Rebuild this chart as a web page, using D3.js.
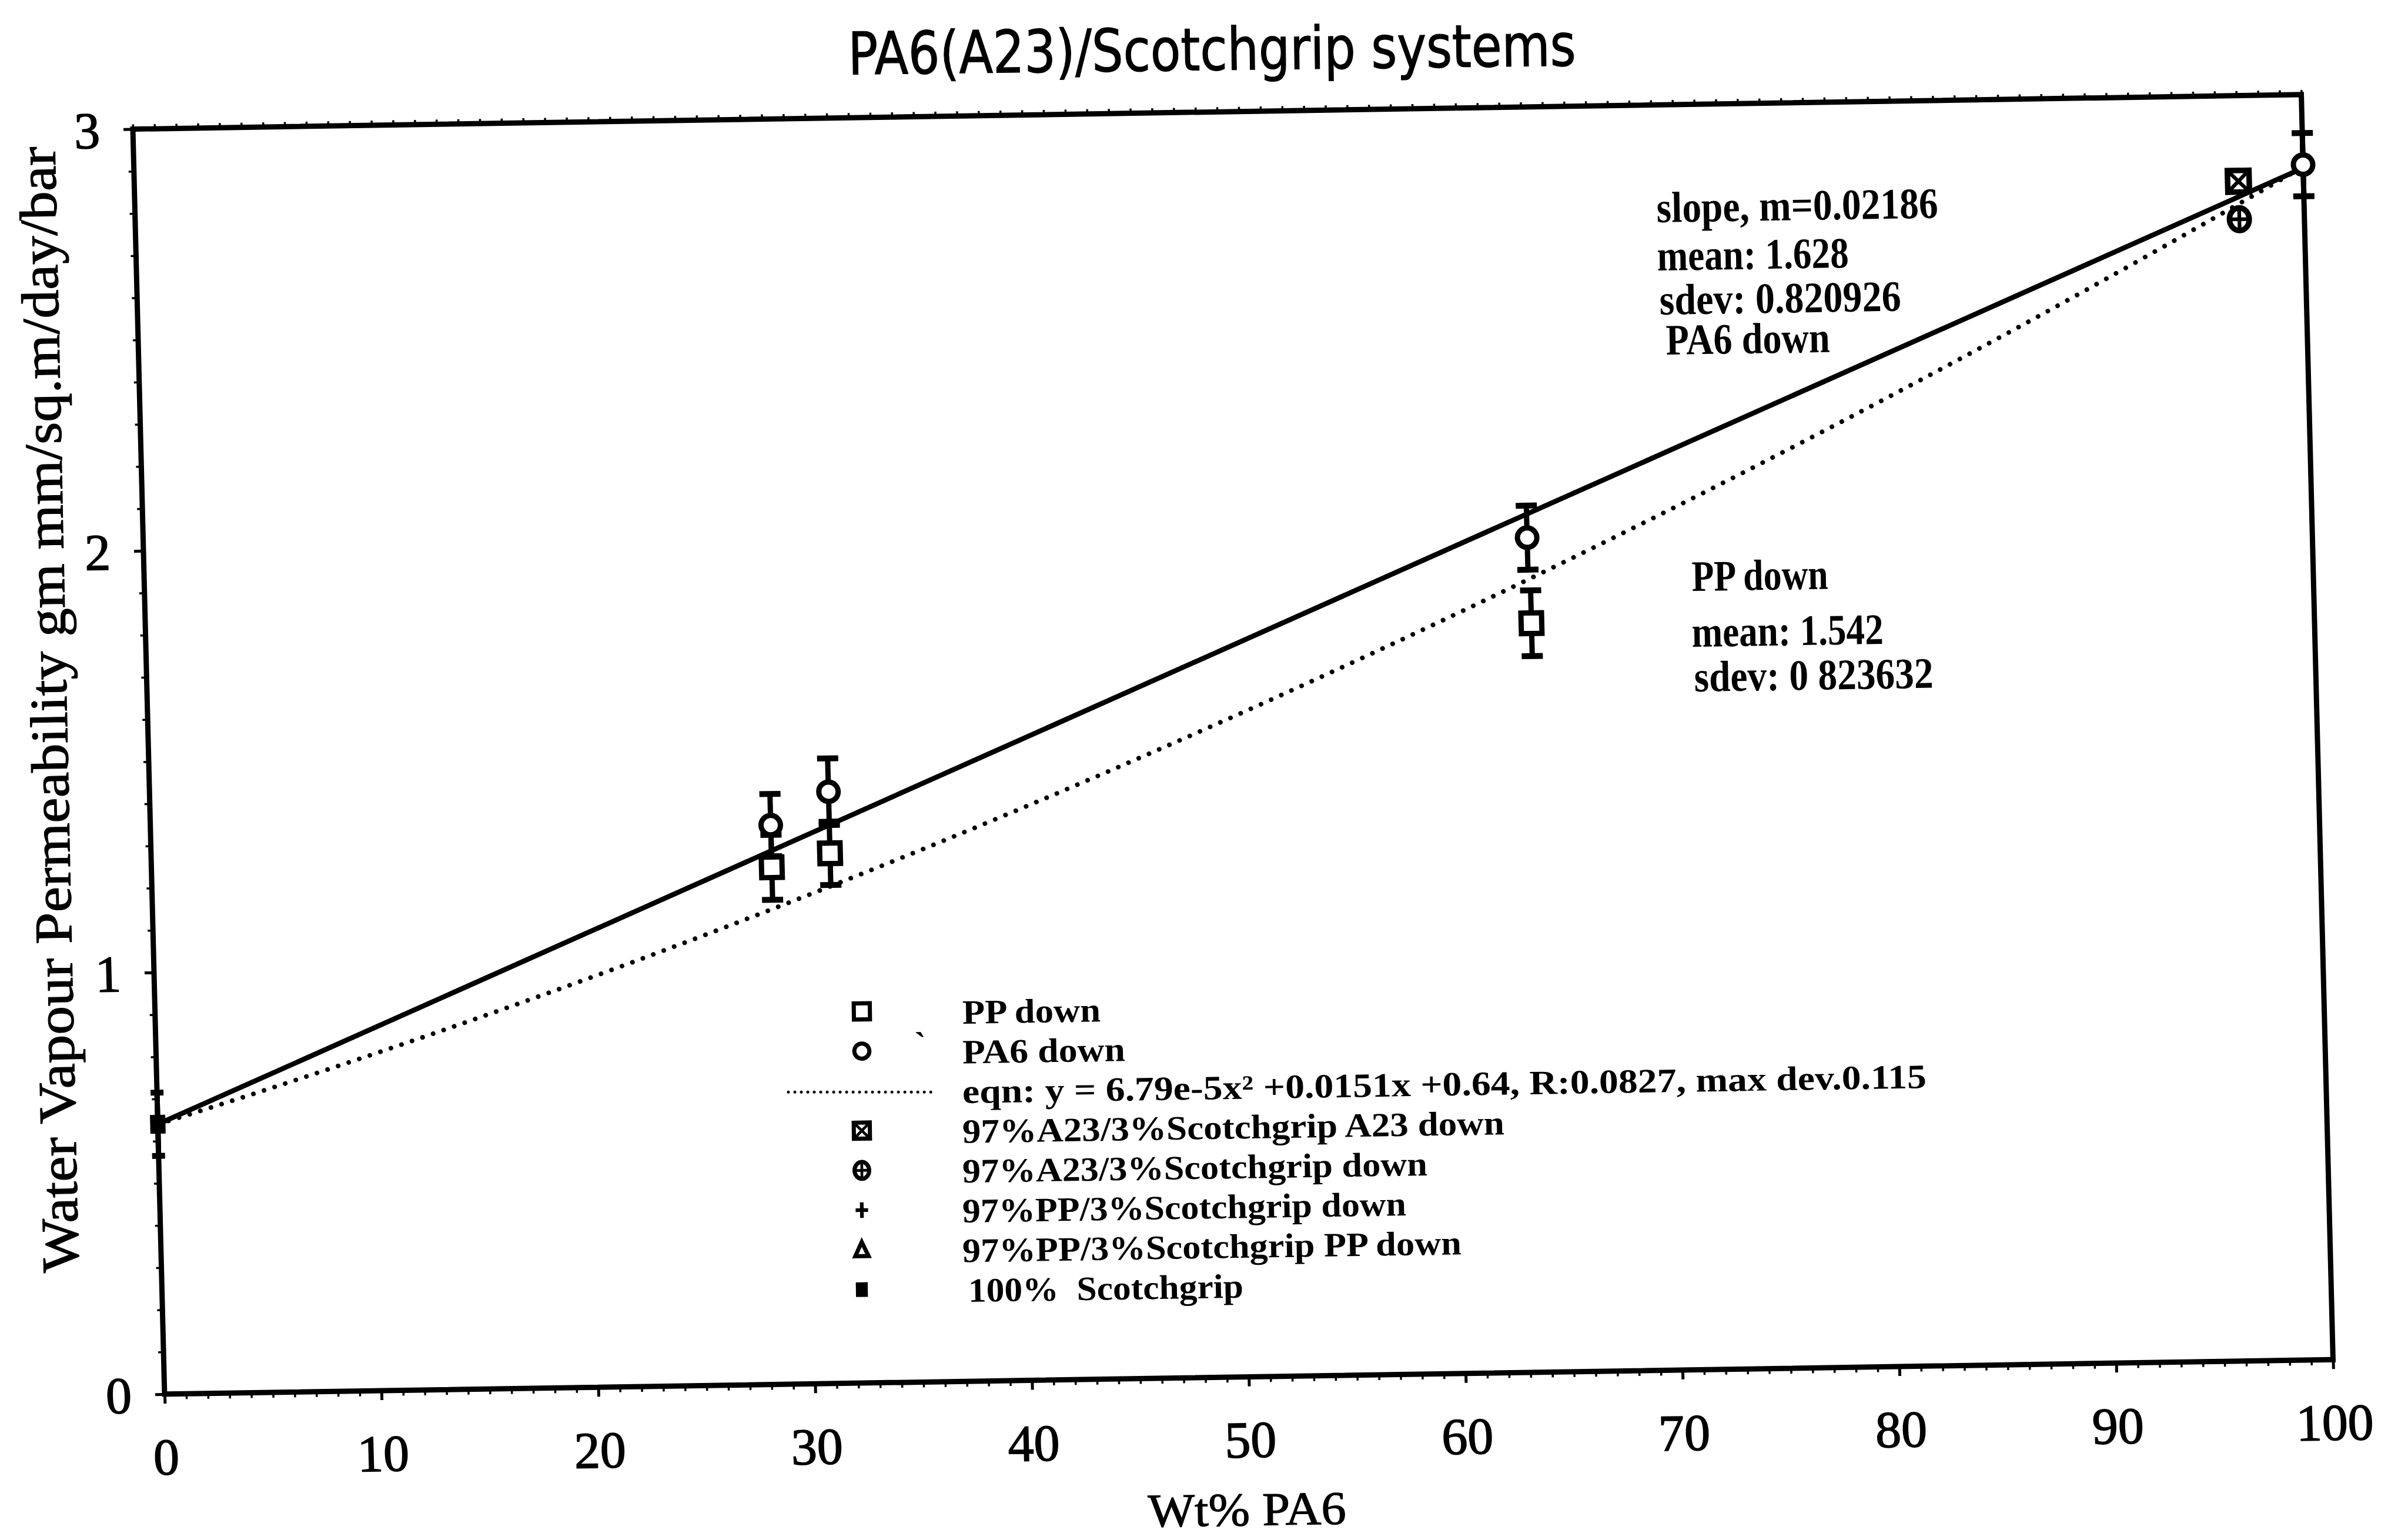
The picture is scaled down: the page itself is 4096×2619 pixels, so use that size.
<!DOCTYPE html>
<html>
<head>
<meta charset="utf-8">
<script src="https://cdn.jsdelivr.net/npm/d3@7"></script>
<style>
  html, body { margin: 0; padding: 0; background: #fff; }
  svg { display: block; }
  text { white-space: pre; }
</style>
</head>
<body>
<svg id="chart" width="4096" height="2619"></svg>
<script>
// ---------------- data ----------------
const xTicks = [0, 10, 20, 30, 40, 50, 60, 70, 80, 90, 100];
const yTicks = [0, 1, 2, 3];

// PA6 down (circles, with error bars)
const pa6Wt   = [28.6, 31.3, 63.8, 100];
const pa6Perm = [1.326, 1.403, 1.979, 2.834];
const pa6Err  = [0.074, 0.079, 0.076, 0.075];

// PP down (squares, with error bars)
const ppWt   = [28.6, 31.3, 63.9];
const ppPerm = [1.226, 1.257, 1.776];
const ppErr  = [0.077, 0.075, 0.078];

// 97%A23/3%Scotchgrip A23 down
const a23A23Wt   = [97];
const a23A23Perm = [2.797];
// 97%A23/3%Scotchgrip down
const a23Wt   = [97];
const a23Perm = [2.707];
// 100% Scotchgrip
const scotchWt   = [0];
const scotchPerm = [0.64];
const scotchErr  = [0.075];

// straight PA6 line: slope from the annotation, starting at the Scotchgrip value
const pa6LineWt = [0, 100];
const pa6Slope = 0.02186;
const pa6Intercept = 0.64;

// quadratic fit quoted in the legend: y = a x^2 + b x + c
const fitA = 6.79e-5, fitB = 0.0151, fitC = 0.64;
const fitWt = d3.range(0, 100.01, 2);

const annotationsTop = ["slope, m=0.02186", "mean: 1.628", "sdev: 0.820926", "PA6 down"];
const annotationsMid = ["PP down", "mean: 1.542", "sdev: 0 823632"];

const legendLabels = [
  "PP down",
  "PA6 down",
  "eqn: y = 6.79e-5x\u00B2 +0.0151x +0.64, R:0.0827, max dev.0.115",
  "97%A23/3%Scotchgrip A23 down",
  "97%A23/3%Scotchgrip down",
  "97%PP/3%Scotchgrip down",
  "97%PP/3%Scotchgrip PP down",
  "100%  Scotchgrip"
];
const legendSymbols = ["square", "circle", "dotted", "boxx", "circplus", "plus", "triangle", "filled"];

// ---------------- layout ----------------
const svg = d3.select("#chart");
const W = 3689, H = 2152;
const SERIF = "'Liberation Serif', 'Times New Roman', serif";
const TILT = -0.9;

// plot frame sits slightly rotated / sheared on the page
const plot = svg.append("g")
  .attr("transform", "matrix(0.99987,-0.01590,0.02506,0.99969,226.0,219.6)");

const x = d3.scaleLinear().domain([0, 100]).range([0, W]);
const y = d3.scaleLinear().domain([0, 3]).range([H, 0]);

function styleAxis(g, width) {
  g.select(".domain").remove();
  g.selectAll(".tick line").attr("stroke", "#000").attr("stroke-width", width);
}

// minor ticks on bottom, top and left sides
const xMinor = d3.range(0, 100.01, 1);
const yMinor = d3.range(0, 3.001, 0.1);
plot.append("g").attr("transform", `translate(0,${H})`)
  .call(d3.axisBottom(x).tickValues(xMinor).tickSize(9).tickFormat(""))
  .call(g => styleAxis(g, 3.5));
plot.append("g")
  .call(d3.axisTop(x).tickValues(xMinor).tickSize(8).tickFormat(""))
  .call(g => styleAxis(g, 3.5));
plot.append("g")
  .call(d3.axisLeft(y).tickValues(yMinor).tickSize(9).tickFormat(""))
  .call(g => styleAxis(g, 3.5));

// major ticks with labels
const xAxisG = plot.append("g").attr("transform", `translate(0,${H})`)
  .call(d3.axisBottom(x).tickValues(xTicks).tickSize(16).tickFormat(d3.format("d")))
  .call(g => styleAxis(g, 5));
xAxisG.selectAll(".tick text")
  .attr("y", 106).attr("dy", "0.35em")
  .attr("font-family", SERIF).attr("font-size", 88)
  .attr("fill", "#000").attr("stroke", "#000").attr("stroke-width", 1.6);

const yAxisG = plot.append("g")
  .call(d3.axisLeft(y).tickValues(yTicks).tickSize(16).tickFormat(d3.format("d")))
  .call(g => styleAxis(g, 5));
yAxisG.selectAll(".tick text")
  .attr("x", -56).attr("dy", "0.35em")
  .attr("font-family", SERIF).attr("font-size", 88)
  .attr("fill", "#000").attr("stroke", "#000").attr("stroke-width", 1.6);

// frame
plot.append("rect")
  .attr("x", 0).attr("y", 0).attr("width", W).attr("height", H)
  .attr("fill", "none").attr("stroke", "#000").attr("stroke-width", 9);

// fitted lines
const line = d3.line().x(d => x(d[0])).y(d => y(d[1]));
plot.append("path")
  .datum(pa6LineWt.map(w => [w, pa6Intercept + pa6Slope * w]))
  .attr("d", line)
  .attr("fill", "none").attr("stroke", "#000").attr("stroke-width", 8.5);

plot.append("path")
  .datum(fitWt.map(w => [w, fitA * w * w + fitB * w + fitC]))
  .attr("d", line)
  .attr("fill", "none").attr("stroke", "#000").attr("stroke-width", 8)
  .attr("stroke-linecap", "round").attr("stroke-dasharray", "0.01 19");

// error bars
function errorBars(wt, val, err, capHalf) {
  const rows = wt.map((w, i) => ({ w, v: val[i], e: err[i] }));
  const g = plot.append("g").attr("stroke", "#000").attr("fill", "none");
  g.selectAll("line.bar").data(rows).join("line").attr("class", "bar")
    .attr("x1", d => x(d.w)).attr("x2", d => x(d.w))
    .attr("y1", d => y(d.v - d.e)).attr("y2", d => y(d.v + d.e))
    .attr("stroke-width", 9);
  ["top", "bot"].forEach(side => {
    g.selectAll("line.cap-" + side).data(rows).join("line").attr("class", "cap-" + side)
      .attr("x1", d => x(d.w) - capHalf).attr("x2", d => x(d.w) + capHalf)
      .attr("y1", d => y(side === "top" ? d.v + d.e : d.v - d.e))
      .attr("y2", d => y(side === "top" ? d.v + d.e : d.v - d.e))
      .attr("stroke-width", 10);
  });
}
errorBars(ppWt, ppPerm, ppErr, 18);
errorBars(pa6Wt, pa6Perm, pa6Err, 18);
errorBars(scotchWt, scotchPerm, scotchErr, 11);

// marker drawing shared by plot and legend
function drawSymbol(g, type, s) {
  // s: overall scale (1 = plot size)
  const sw = 9 * s;
  if (type === "square") {
    const a = 35 * s;
    g.append("rect").attr("x", -a / 2).attr("y", -a / 2).attr("width", a).attr("height", a)
      .attr("fill", "#fff").attr("stroke", "#000").attr("stroke-width", sw);
  } else if (type === "circle") {
    g.append("circle").attr("r", 16.5 * s)
      .attr("fill", "#fff").attr("stroke", "#000").attr("stroke-width", sw);
  } else if (type === "boxx") {
    const a = 35 * s;
    g.append("rect").attr("x", -a / 2).attr("y", -a / 2).attr("width", a).attr("height", a)
      .attr("fill", "#fff").attr("stroke", "#000").attr("stroke-width", sw);
    g.append("path").attr("d", `M${-a/2},${-a/2}L${a/2},${a/2}M${a/2},${-a/2}L${-a/2},${a/2}`)
      .attr("stroke", "#000").attr("stroke-width", 6 * s);
  } else if (type === "circplus") {
    const r = 16 * s;
    g.append("ellipse").attr("rx", r).attr("ry", r * 1.15)
      .attr("fill", "#fff").attr("stroke", "#000").attr("stroke-width", sw);
    g.append("path").attr("d", `M0,${-r * 1.15}L0,${r * 1.15}M${-r},0L${r},0`)
      .attr("stroke", "#000").attr("stroke-width", 6 * s);
  } else if (type === "plus") {
    const a = 17 * s;
    g.append("path").attr("d", `M0,${-a}L0,${a}M${-a * 0.8},0L${a * 0.8},0`)
      .attr("stroke", "#000").attr("stroke-width", 8 * s);
  } else if (type === "triangle") {
    const a = 17 * s;
    g.append("path").attr("d", `M0,${-a}L${a * 0.85},${a * 0.8}L${-a * 0.85},${a * 0.8}Z`)
      .attr("fill", "#fff").attr("stroke", "#000").attr("stroke-width", sw);
  } else if (type === "filled") {
    g.append("rect").attr("x", -13 * s).attr("y", -16 * s).attr("width", 26 * s).attr("height", 32 * s)
      .attr("fill", "#000");
  }
}

function drawPoints(wt, val, type, s) {
  wt.forEach((w, i) => {
    const g = plot.append("g").attr("transform", `translate(${x(w)},${y(val[i])})`);
    drawSymbol(g, type, s);
  });
}
drawPoints(ppWt, ppPerm, "square", 1);
drawPoints(pa6Wt, pa6Perm, "circle", 1);
drawPoints(a23A23Wt, a23A23Perm, "boxx", 1.05);
drawPoints(a23Wt, a23Perm, "circplus", 1.05);
drawPoints(scotchWt, scotchPerm, "filled", 1);

// ---------------- page text ----------------
function tiltedText(px, py, str, opts) {
  const t = svg.append("text")
    .attr("transform", `translate(${px},${py}) rotate(${opts.rot === undefined ? TILT : opts.rot})`)
    .attr("font-family", opts.family || SERIF)
    .attr("font-size", opts.size)
    .attr("font-weight", opts.weight || "normal")
    .attr("text-anchor", opts.anchor || "start")
    .attr("fill", "#000")
    .text(str);
  if (opts.dy) t.attr("dy", opts.dy);
  if (opts.len) t.attr("textLength", opts.len).attr("lengthAdjust", "spacingAndGlyphs");
  if (opts.stroke) t.attr("stroke", "#000").attr("stroke-width", opts.stroke);
  return t;
}

// title
tiltedText(2062, 119, "PA6(A23)/Scotchgrip systems", {
  family: "'Liberation Sans Narrow', 'DejaVu Sans Condensed', 'Liberation Sans', sans-serif",
  size: 100, anchor: "middle", len: 1238, rot: -0.7, stroke: 1.2
});

// axis titles
tiltedText(82, 1207, "Water Vapour Permeability gm mm/sq.m/day/bar", {
  size: 90, anchor: "middle", dy: "0.35em", len: 1915, rot: -91.2, stroke: 1.2
});
tiltedText(2121, 2566, "Wt% PA6", {
  size: 80, anchor: "middle", dy: "0.35em", len: 337, rot: -0.8, stroke: 1.2
});

// statistics notes
const topPos = [[2818, 378, 479], [2819, 460, 326], [2823, 535, 411], [2834, 603, 279]];
annotationsTop.forEach((s, i) => {
  tiltedText(topPos[i][0], topPos[i][1], s, { size: 74, weight: "bold", len: topPos[i][2] });
});
const midPos = [[2878, 1005, 232], [2878, 1100, 326], [2882, 1176, 407]];
annotationsMid.forEach((s, i) => {
  tiltedText(midPos[i][0], midPos[i][1], s, { size: 74, weight: "bold", len: midPos[i][2] });
});

// legend
const legSymX = 1466, legTextX = 1637, legRow0 = 1720, legStep = 67.6;
const legLens = [235, 277, 1640, 922, 791, 755, 849, 468];
legendLabels.forEach((lab, i) => {
  const cy = legRow0 + legStep * i;
  const tx = legTextX + (i === 7 ? 10 : 0);
  tiltedText(tx, cy, lab, { size: 58, weight: "bold", dy: "0.36em", len: legLens[i] });
  const type = legendSymbols[i];
  if (type === "dotted") {
    svg.append("line")
      .attr("x1", 1341).attr("x2", 1584).attr("y1", cy + 2).attr("y2", cy + 2)
      .attr("stroke", "#000").attr("stroke-width", 5)
      .attr("stroke-linecap", "round").attr("stroke-dasharray", "0.01 11");
  } else {
    const g = svg.append("g").attr("transform", `translate(${legSymX},${cy}) rotate(${TILT})`);
    drawSymbol(g, type, 0.78);
  }
});
// stray tick mark beside the second legend row
tiltedText(1556, legRow0 + legStep + 8, "`", { size: 58, weight: "bold" });
</script>
</body>
</html>
